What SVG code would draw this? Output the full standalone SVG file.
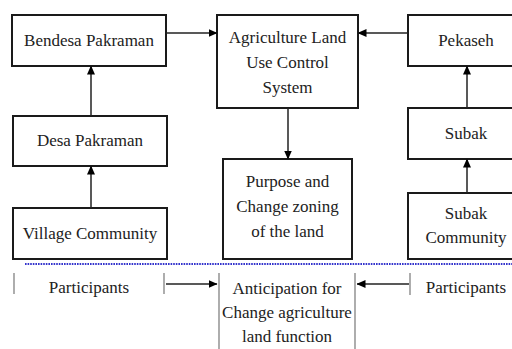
<svg xmlns="http://www.w3.org/2000/svg" width="512" height="349" viewBox="0 0 512 349">
<defs>
<marker id="ah" markerWidth="9" markerHeight="8" refX="8.5" refY="4" orient="auto" markerUnits="userSpaceOnUse">
<path d="M0,0 L9,4 L0,8 Z" fill="#000"/>
</marker>
</defs>
<rect width="512" height="349" fill="#fff"/>
<g fill="#fff" stroke="#1a1a1a" stroke-width="2">
<rect id="bendesa-box" x="12" y="15" width="154" height="51"/>
<rect id="desa-box" x="13" y="116" width="154" height="50"/>
<rect id="village-box" x="13" y="208" width="154" height="51"/>
<rect id="agri-box" x="217" y="15" width="141" height="93"/>
<rect id="purpose-box" x="223" y="159" width="129" height="100"/>
<rect id="pekaseh-box" x="408" y="15" width="116" height="51"/>
<rect id="subak-box" x="408" y="108" width="116" height="51"/>
<rect id="subakcomm-box" x="408" y="193" width="116" height="66"/>
</g>
<g id="bendesa"><text font-family="Liberation Serif" font-size="17" fill="#222" text-anchor="middle" x="89" y="46">Bendesa Pakraman</text></g>
<g id="desa"><text font-family="Liberation Serif" font-size="17" fill="#222" text-anchor="middle" x="90" y="146">Desa Pakraman</text></g>
<g id="village"><text font-family="Liberation Serif" font-size="17" fill="#222" text-anchor="middle" x="90" y="239">Village Community</text></g>
<g id="agri"><text font-family="Liberation Serif" font-size="17" fill="#222" text-anchor="middle" x="287.5" y="43">Agriculture Land</text><text font-family="Liberation Serif" font-size="17" fill="#222" text-anchor="middle" x="287.5" y="68">Use Control</text><text font-family="Liberation Serif" font-size="17" fill="#222" text-anchor="middle" x="287.5" y="93">System</text></g>
<g id="purpose"><text font-family="Liberation Serif" font-size="17" fill="#222" text-anchor="middle" x="287.5" y="187">Purpose and</text><text font-family="Liberation Serif" font-size="17" fill="#222" text-anchor="middle" x="287.5" y="212">Change zoning</text><text font-family="Liberation Serif" font-size="17" fill="#222" text-anchor="middle" x="287.5" y="237">of the land</text></g>
<g id="pekaseh"><text font-family="Liberation Serif" font-size="17" fill="#222" text-anchor="middle" x="466" y="46">Pekaseh</text></g>
<g id="subak"><text font-family="Liberation Serif" font-size="17" fill="#222" text-anchor="middle" x="466" y="139">Subak</text></g>
<g id="subakcomm"><text font-family="Liberation Serif" font-size="17" fill="#222" text-anchor="middle" x="466" y="219">Subak</text><text font-family="Liberation Serif" font-size="17" fill="#222" text-anchor="middle" x="466" y="243">Community</text></g>
<g id="participants-left"><text font-family="Liberation Serif" font-size="17" fill="#222" text-anchor="middle" x="89" y="293">Participants</text></g>
<g id="participants-right"><text font-family="Liberation Serif" font-size="17" fill="#222" text-anchor="middle" x="466" y="293">Participants</text></g>
<g id="anticipation"><text font-family="Liberation Serif" font-size="17" fill="#222" text-anchor="middle" x="287" y="294">Anticipation for</text><text font-family="Liberation Serif" font-size="17" fill="#222" text-anchor="middle" x="287" y="318">Change agriculture</text><text font-family="Liberation Serif" font-size="17" fill="#222" text-anchor="middle" x="287" y="342">land function</text></g>
<g id="connectors">
<g stroke="#222" stroke-width="1.5" fill="none" marker-end="url(#ah)">
<line x1="166" y1="33" x2="217" y2="33"/>
<line x1="408" y1="33" x2="358" y2="33"/>
<line x1="91" y1="116" x2="91" y2="66"/>
<line x1="91" y1="208" x2="91" y2="166"/>
<line x1="467" y1="108" x2="467" y2="66"/>
<line x1="467" y1="193" x2="467" y2="159"/>
<line x1="288" y1="108" x2="288" y2="159"/>
<line x1="166" y1="284" x2="217" y2="284"/>
<line x1="409" y1="284" x2="357" y2="284"/>
</g>
<line x1="25" y1="264" x2="512" y2="264" stroke="#3333cc" stroke-width="2.2" stroke-dasharray="1.6,1"/>
<g stroke="#777" stroke-width="1.2">
<line x1="14" y1="273" x2="14" y2="294"/>
<line x1="164" y1="273" x2="164" y2="294"/>
<line x1="219" y1="273" x2="219" y2="349"/>
<line x1="355" y1="273" x2="355" y2="349"/>
<line x1="410" y1="273" x2="410" y2="295"/>
</g>
</g>
</svg>
